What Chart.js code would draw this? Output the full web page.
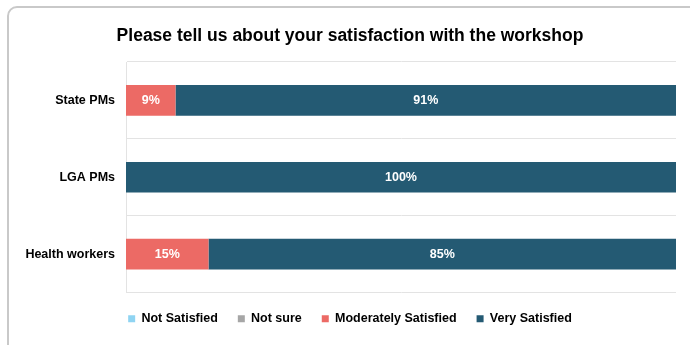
<!DOCTYPE html>
<html>
<head>
<meta charset="utf-8">
<script src="https://cdn.jsdelivr.net/npm/chart.js@4"></script>
<style>
  body { margin: 0; background: #fff; overflow: hidden; }
  #frame { position: absolute; left: 7px; top: 6px; width: 720px; height: 380px;
           border: 2px solid #c9c9c9; border-radius: 10px; }
  #wrap { position: absolute; left: 0; top: 0; width: 690px; height: 345px; }
</style>
</head>
<body>
<div id="frame"></div>
<div id="wrap"><canvas id="chart" width="690" height="345"></canvas></div>
<script>
// chart data
const groups = ["State PMs", "LGA PMs", "Health workers"];
const notSatisfied = [0, 0, 0];
const notSure = [0, 0, 0];
const moderatelySatisfied = [9, 0, 15];
const verySatisfied = [91, 100, 85];

const FONT = "'Liberation Sans', Arial, sans-serif";

// white % labels inside the bar segments
const barLabels = {
  id: "barLabels",
  afterDatasetsDraw(chart) {
    const ctx = chart.ctx;
    ctx.save();
    ctx.fillStyle = "#fff";
    ctx.font = "bold 12.5px " + FONT;
    ctx.textAlign = "center";
    ctx.textBaseline = "middle";
    chart.data.datasets.forEach((ds, i) => {
      chart.getDatasetMeta(i).data.forEach((bar, j) => {
        const v = ds.data[j];
        if (!v) return;
        const x = (bar.x + bar.base) / 2;
        ctx.fillText(v + "%", x, bar.y);
      });
    });
    ctx.restore();
  }
};

new Chart(document.getElementById("chart"), {
  type: "bar",
  data: {
    labels: groups,
    datasets: [
      { label: "Not Satisfied", data: notSatisfied, backgroundColor: "#8fd4f2" },
      { label: "Not sure", data: notSure, backgroundColor: "#a6a6a6" },
      { label: "Moderately Satisfied", data: moderatelySatisfied, backgroundColor: "#ec6a65" },
      { label: "Very Satisfied", data: verySatisfied, backgroundColor: "#245a73" }
    ]
  },
  options: {
    indexAxis: "y",
    responsive: false,
    animation: false,
    barPercentage: 0.4,
    categoryPercentage: 1,
    layout: { padding: { left: 10, right: 0, top: 0, bottom: 10 } },
    scales: {
      x: {
        stacked: true, min: 0, max: 100, display: false
      },
      y: {
        stacked: true,
        afterFit: (s) => { s.width = 116; },
        grid: { color: "#e3e3e3", drawTicks: false, offset: true },
        border: { color: "#e3e3e3" },
        ticks: { color: "#000", padding: 11, font: { family: FONT, size: 12.5, weight: "bold" } }
      },
      // empty spacer on the right
      yRight: {
        position: "right",
        afterFit: (s) => { s.width = 14; },
        grid: { display: false },
        border: { display: false },
        ticks: { display: false }
      }
    },
    plugins: {
      title: {
        display: true,
        text: "Please tell us about your satisfaction with the workshop",
        color: "#000",
        font: { family: FONT, size: 17.5, weight: "bold" },
        padding: { top: 26, bottom: 15 }
      },
      legend: {
        position: "bottom",
        labels: {
          color: "#000",
          boxWidth: 7, boxHeight: 7,
          padding: 20,
          font: { family: FONT, size: 12.5, weight: "bold" }
        }
      },
      tooltip: { enabled: false }
    }
  },
  plugins: [barLabels]
});
</script>
</body>
</html>
